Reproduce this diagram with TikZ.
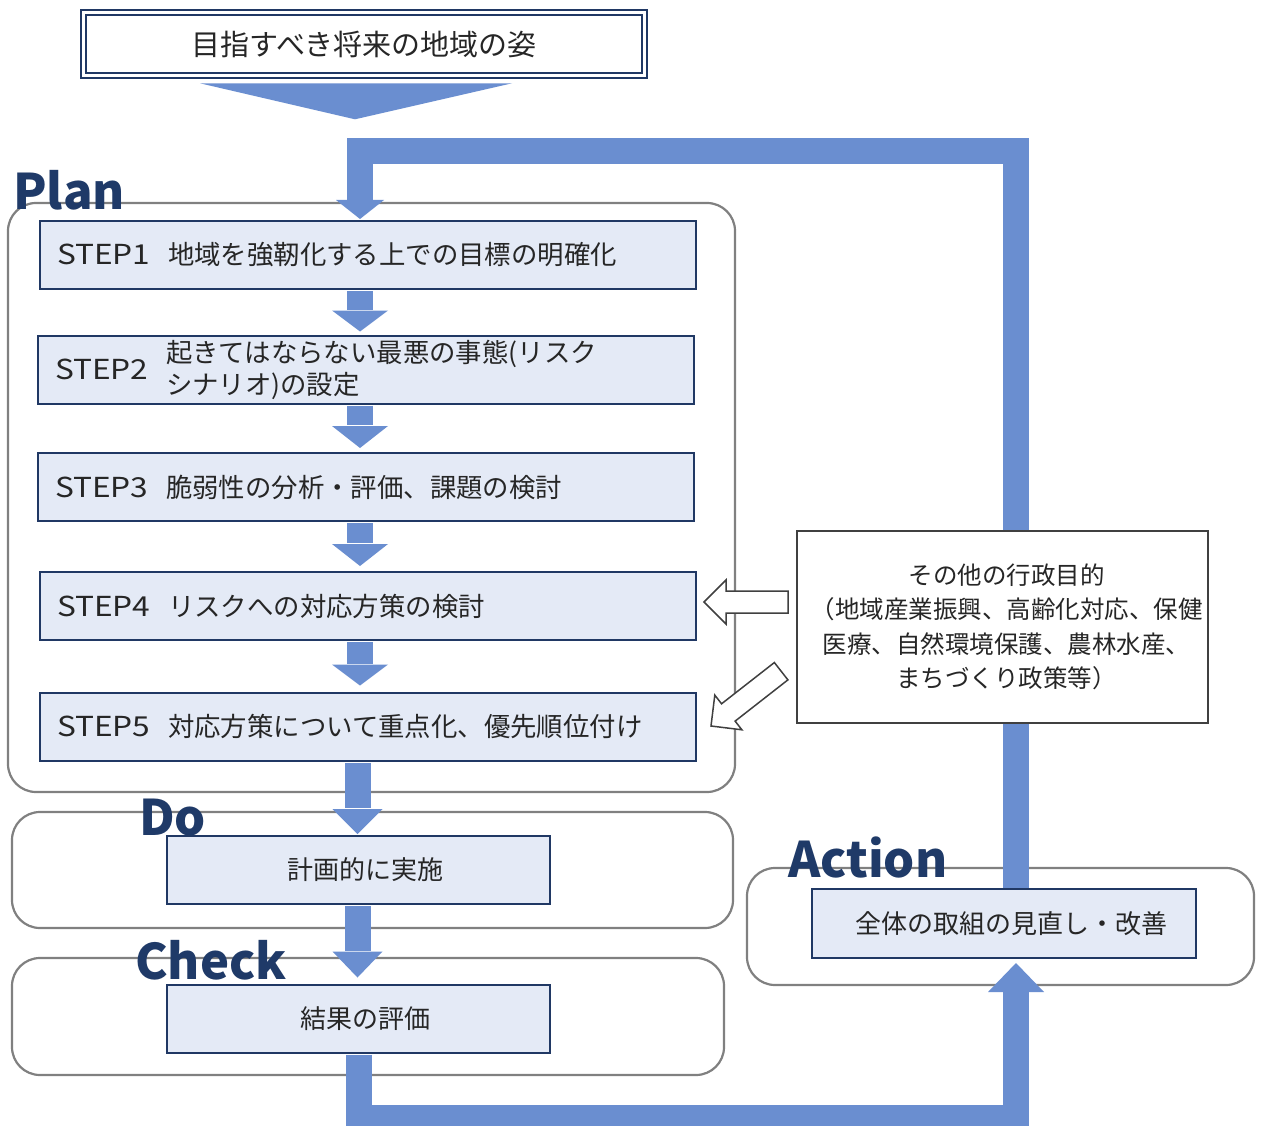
\documentclass[tikz,border=0pt]{standalone}
\usepackage{fontspec}
\setmainfont{Noto Sans CJK JP}
\usetikzlibrary{calc}
\definecolor{abl}{HTML}{6A8ED0}
\definecolor{navy}{HTML}{203864}
\definecolor{boxfill}{HTML}{E4EAF6}
\definecolor{lbl}{HTML}{1F3A68}
\definecolor{txt}{HTML}{262626}
\definecolor{rgray}{HTML}{808080}
\definecolor{dgray}{HTML}{404040}
\tikzset{
  phase/.style={draw=rgray, line width=2.2pt, rounded corners=28pt},
  stepbox/.style={draw=navy, fill=boxfill, line width=2pt, minimum width=656pt,
    minimum height=68pt, inner xsep=17pt, inner ysep=0pt, text width=622pt, align=left,
    font=\fontsize{26.4}{30}\selectfont, text=txt},
  midbox/.style={draw=navy, fill=boxfill, line width=2pt, minimum width=383pt,
    minimum height=68pt, inner sep=0pt, font=\fontsize{26}{30}\selectfont, text=txt},
  phaselbl/.style={font=\fontsize{49}{49}\selectfont\bfseries, text=lbl, inner sep=0pt, anchor=base west},
  shaft/.style={draw=abl, line width=26pt, line cap=butt},
  hollowst/.style={draw=dgray, fill=white, line width=1.5pt, line join=miter},
}
\newcommand\blkdn[4]{%
  \draw[shaft] (#1) -- ($(#2)+(0,-#4)+(0,-1)$);
  \fill[abl] (#2) -- ($(#2)+(-#3/2,-#4)$) -- ($(#2)+(#3/2,-#4)$) -- cycle;}
\newcommand\hollowarr[3]{%
  \begin{scope}[shift={(#1)}, rotate=#2]
    \filldraw[hollowst] (0,0) -- (22,-22) -- (22,-11) -- (#3,-11) -- (#3,11) -- (22,11) -- (22,22) -- cycle;
  \end{scope}}
\newcommand\stp[1]{\makebox[111pt][l]{\fontsize{27.5}{30}\selectfont\scalebox{1.15}[1]{#1}}}
\begin{document}
\begin{tikzpicture}[x=1pt,y=-1pt]
\useasboundingbox (0,0) rectangle (1261,1126);
\clip (0,0) rectangle (1261,1126);
\fill[white] (0,0) rectangle (1261,1126);

% phase frames
\draw[phase] (8,203) rectangle (735,792);
\draw[phase] (12,812) rectangle (733,928);
\draw[phase] (12,958) rectangle (724,1075);
\draw[phase] (747,868) rectangle (1254,985);

% top box
\node[draw=navy, double=white, double distance=3pt, line width=1.6pt, minimum width=561pt,
  minimum height=63pt, inner sep=0pt, font=\fontsize{29}{32}\selectfont, text=txt]
  (top) at (364,44) {目指すべき将来の地域の姿};
\fill[abl] ($(top.south)+(-164,7)$) -- ($(top.south)+(148,7)$) -- ($(top.south)+(-9,43)$) -- cycle;

% nodes
\node[stepbox] (s1) at (368,255) {\stp{STEP1}地域を強靭化する上での目標の明確化};
\node[stepbox] (s2) at (366,369.5) {\stp{STEP2}\raisebox{1.5pt}[0pt][0pt]{\begin{tabular}[c]{@{}l@{}}起きてはならない最悪の事態(リスク\\シナリオ)の設定\end{tabular}}};
\node[stepbox] (s3) at (366,487) {\stp{STEP3}脆弱性の分析・評価、課題の検討};
\node[stepbox] (s4) at (368,606) {\stp{STEP4}リスクへの対応方策の検討};
\node[stepbox] (s5) at (368,726.5) {\stp{STEP5}対応方策について重点化、優先順位付け};
\node[midbox] (do) at (358.5,870) {\hspace{14pt}計画的に実施};
\node[midbox] (chk) at (358.5,1018.5) {\hspace{14pt}結果の評価};
\node[midbox, minimum width=384pt, minimum height=69pt] (act) at (1004,923.5) {\hspace{14pt}全体の取組の見直し・改善};

% loop coordinates
\coordinate (ax) at (360,0);
\coordinate (rx) at (1016,0);
\coordinate (bx) at (359,0);
\coordinate (dx) at (357.5,0);
\coordinate (ty) at (0,151.5);
\coordinate (by) at (0,1118);

% top feedback loop (Action -> STEP1)
\coordinate (t1) at ($(s1.north -| ax)+(0,-1)$);
\draw[shaft, line join=miter] (act.north -| rx) -- (rx |- ty) -- (ax |- ty) -- ($(t1)+(0,-18)$);
\fill[abl] (t1) -- ++(-24,-19) -- ++(48,0) -- cycle;

% bottom loop (Check -> Action)
\coordinate (tA) at ($(act.south -| rx)+(0,4)$);
\draw[shaft, line join=miter] ($(chk.south -| bx)+(0,1)$) -- (bx |- by) -- (rx |- by) -- ($(tA)+(0,28)$);
\fill[abl] (tA) -- ++(-28,29) -- ++(56,0) -- cycle;

% redraw action box on top of loop ends
\node[midbox, minimum width=384pt, minimum height=69pt] at (act) {\hspace{14pt}全体の取組の見直し・改善};

% other purposes box
\node[draw=dgray, fill=white, line width=2pt, minimum width=411pt, minimum height=192pt,
  inner sep=0pt, align=center, font=\fontsize{24.5}{34.5}\selectfont, text=txt]
  (oth) at (1002.5,627) {\hspace{8pt}その他の行政目的\\\hspace{8pt}（地域産業振興、高齢化対応、保健\\\hspace{8pt}医療、自然環境保護、農林水産、\\\hspace{8pt}まちづくり政策等）};

% step arrows
\coordinate (t2) at ($(s2.north -| ax)+(0,-3)$);
\coordinate (t3) at ($(s3.north -| ax)+(0,-4)$);
\coordinate (t4) at ($(s4.north -| ax)+(0,-5)$);
\coordinate (t5) at ($(s5.north -| ax)+(0,-6)$);
\blkdn{$(s1.south -| ax)+(0,1)$}{t2}{56}{21}
\blkdn{$(s2.south -| ax)+(0,1)$}{t3}{56}{22}
\blkdn{$(s3.south -| ax)+(0,1)$}{t4}{56}{22}
\blkdn{$(s4.south -| ax)+(0,1)$}{t5}{56}{21}
\coordinate (tdo) at ($(do.north -| dx)+(0,-1)$);
\coordinate (tck) at ($(chk.north -| dx)+(0,-6)$);
\blkdn{$(s5.south -| dx)+(0,1)$}{tdo}{50}{25}
\blkdn{$(do.south -| dx)+(0,1)$}{tck}{50}{26}

% hollow arrows from other box
\coordinate (h4) at (704,602);
\coordinate (h5) at (711,726);
\hollowarr{h4}{0}{84}
\hollowarr{h5}{38}{89}

% phase labels
\node[phaselbl] (lplan) at (13,210) {Plan};
\node[phaselbl] (ldo) at (139,835) {Do};
\node[phaselbl] (lchk) at (135,979) {Check};
\node[phaselbl] (lact) at (788,877) {Action};
\end{tikzpicture}
\end{document}
